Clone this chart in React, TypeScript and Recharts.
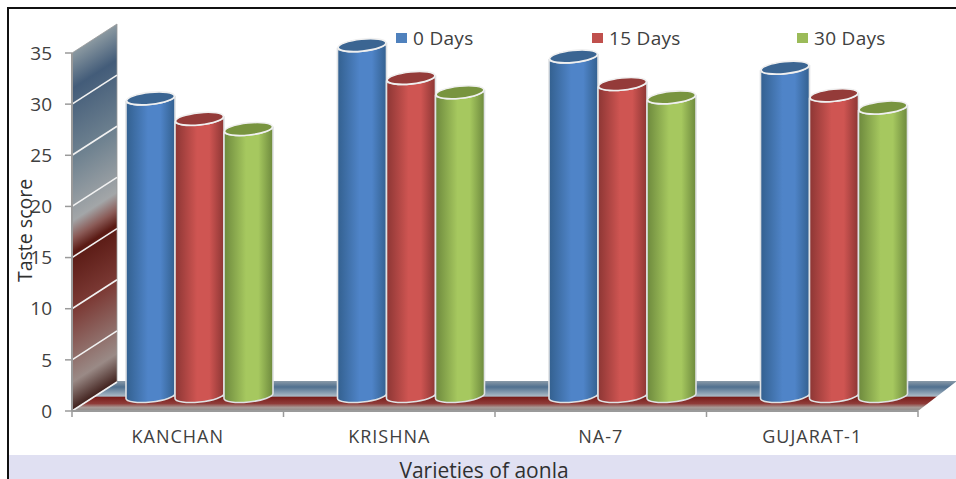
import { BarChart, Bar, XAxis, YAxis, Legend, Customized, usePlotArea } from "recharts";

const varieties = ["KANCHAN", "KRISHNA", "NA-7", "GUJARAT-1"];
const days0 = [29.1, 34.3, 33.2, 32.1];
const days15 = [27.1, 31.1, 30.5, 29.4];
const days30 = [26.1, 29.7, 29.2, 28.2];
const yTicks = [0, 5, 10, 15, 20, 25, 30, 35];
const legendLefts = [0, 196, 401];

const chartData = varieties.map((name, i) => ({
  name,
  d0: days0[i],
  d15: days15[i],
  d30: days30[i],
}));

// depth of the fake 3D box
const WALL_DX = 45;
const WALL_DY = 29;
// cylinders stand halfway into the box
const BAR_DX = 22;
const BAR_DY = 15;
const RY = 6;
const TILT = 2.5;
const FONT = "'Open Sans', sans-serif";

const palette: Record<string, { edge: string; mid: string; top: string }> = {
  "#4f81bd": { edge: "#33608f", mid: "#4f84c8", top: "#3b6592" },
  "#c0504d": { edge: "#8c3634", mid: "#cf5552", top: "#943b39" },
  "#9bbb59": { edge: "#6d893d", mid: "#a6c85f", top: "#78943f" },
};

function Cylinder({ x, y, width, height, fill }: any) {
  const left = x + BAR_DX;
  const right = left + width;
  const top = y - BAR_DY;
  const bottom = y + height - BAR_DY;
  const rx = width / 2;
  const body = `M${left},${top + TILT} L${left},${bottom + TILT} A${rx},${RY} -6 0 0 ${right},${bottom - TILT} L${right},${top - TILT} A${rx},${RY} -6 0 1 ${left},${top + TILT} Z`;
  const gradId = `cyl-${fill.slice(1)}`;
  return (
    <g>
      <path d={body} fill={`url(#${gradId})`} stroke="#dfe2e4" strokeWidth={1.6} />
      <ellipse
        cx={left + rx}
        cy={top}
        rx={rx - 0.5}
        ry={RY}
        transform={`rotate(-6 ${left + rx} ${top})`}
        fill={palette[fill].top}
        stroke="#f0f0f0"
        strokeWidth={1.6}
      />
    </g>
  );
}

// back wall, floor and the axis ticks that sit on the band edges
function Box() {
  const plot = usePlotArea();
  if (!plot) return null;
  const { x, y, width, height } = plot;
  const x1 = x + width;
  const y1 = y + height;
  const band = width / varieties.length;
  const yOf = (v: number) => y1 - (v / yTicks[yTicks.length - 1]) * height;

  return (
    <g>
      <defs>
        <linearGradient
          id="wall"
          gradientUnits="userSpaceOnUse"
          x1={0}
          y1={y}
          x2={0}
          y2={y1}
          gradientTransform={`translate(${x} 0) skewY(-32.8) translate(${-x} 0)`}
        >
          <stop offset="0" stopColor="#8b99a1" />
          <stop offset="0.1" stopColor="#435c79" />
          <stop offset="0.3" stopColor="#6f8290" />
          <stop offset="0.47" stopColor="#a3a6a8" />
          <stop offset="0.52" stopColor="#8a5a56" />
          <stop offset="0.56" stopColor="#5a1a14" />
          <stop offset="0.72" stopColor="#7c3a35" />
          <stop offset="0.92" stopColor="#9a8a86" />
          <stop offset="1" stopColor="#3f1f1b" />
        </linearGradient>
        <linearGradient id="floor" x1="0" y1="0" x2="0" y2="1">
          <stop offset="0" stopColor="#8a9aa8" />
          <stop offset="0.2" stopColor="#50708f" />
          <stop offset="0.5" stopColor="#a8b8c4" />
          <stop offset="0.55" stopColor="#7a1f1c" />
          <stop offset="0.75" stopColor="#8f3b38" />
          <stop offset="0.88" stopColor="#a89a96" />
          <stop offset="1" stopColor="#8c8c8c" />
        </linearGradient>
        {Object.keys(palette).map((c) => (
          <linearGradient key={c} id={`cyl-${c.slice(1)}`} x1="0" y1="0" x2="1" y2="0">
            <stop offset="0" stopColor={palette[c].edge} />
            <stop offset="0.45" stopColor={palette[c].mid} />
            <stop offset="0.7" stopColor={palette[c].mid} />
            <stop offset="1" stopColor={palette[c].edge} />
          </linearGradient>
        ))}
      </defs>

      <polygon
        points={`${x},${y1} ${x1},${y1} ${x1 + WALL_DX - 6},${y1 - WALL_DY - 1} ${x + WALL_DX},${y1 - WALL_DY - 1}`}
        fill="url(#floor)"
      />
      <polygon
        points={`${x},${y} ${x + WALL_DX},${y - WALL_DY} ${x + WALL_DX},${y1 - WALL_DY} ${x},${y1}`}
        fill="url(#wall)"
        stroke="#9a9a9a"
        strokeWidth={0.8}
      />
      {yTicks.slice(0, -1).map((t) => (
        <line
          key={t}
          x1={x}
          y1={yOf(t)}
          x2={x + WALL_DX}
          y2={yOf(t) - WALL_DY}
          stroke="#f2f2f2"
          strokeWidth={1.6}
        />
      ))}

      <line x1={x} y1={y} x2={x} y2={y1} stroke="#9a9a9a" strokeWidth={2} />
      <line x1={x} y1={y1} x2={x1} y2={y1} stroke="#9a9a9a" strokeWidth={2} />
      {varieties.map((_, i) => (
        <line key={i} x1={x + band * i} y1={y1} x2={x + band * i} y2={y1 + 6} stroke="#9a9a9a" strokeWidth={1.5} />
      ))}
      <line x1={x1} y1={y1} x2={x1} y2={y1 + 6} stroke="#9a9a9a" strokeWidth={1.5} />
    </g>
  );
}

function LegendRow({ payload }: any) {
  return (
    <div style={{ position: "relative", height: 24, fontFamily: FONT }}>
      {(payload || []).map((p: any, i: number) => (
        <div
          key={p.value}
          style={{
            position: "absolute",
            left: legendLefts[i],
            top: 0,
            display: "flex",
            alignItems: "center",
            whiteSpace: "nowrap",
            fontSize: 19,
            letterSpacing: 0.3,
            lineHeight: "24px",
            color: "#404040",
          }}
        >
          <span style={{ width: 11, height: 10, background: p.color, marginRight: 6 }} />
          {p.value}
        </div>
      ))}
    </div>
  );
}

export default function App() {
  return (
    <div
      style={{
        position: "absolute",
        left: 0,
        top: 0,
        width: 956,
        height: 479,
        overflow: "hidden",
        background: "#fff",
      }}
    >
      <div style={{ position: "absolute", left: 8, top: 455, right: 0, bottom: 0, background: "#e0e0f2" }} />
      <div style={{ position: "absolute", left: 7, top: 7, right: 0, height: 2, background: "#111" }} />
      <div style={{ position: "absolute", left: 7, top: 7, bottom: 0, width: 1.5, background: "#111" }} />
      <div style={{ position: "absolute", left: 0, top: 0 }}>
        <BarChart
          width={956}
          height={479}
          data={chartData}
          barSize={49}
          barGap={0}
          margin={{ top: 53, right: 38, bottom: 0, left: 12 }}
        >
          <Customized component={<Box />} />
          <XAxis
            dataKey="name"
            height={68}
            axisLine={false}
            tickLine={false}
            tickMargin={13}
            tick={{ fill: "#404040", fontSize: 18, fontFamily: FONT, letterSpacing: 1 }}
            label={{
              value: "Varieties of aonla",
              position: "insideBottom",
              dx: -11,
              dy: 4,
              fill: "#303030",
              fontSize: 21,
              fontFamily: FONT,
            }}
          />
          <YAxis
            width={60}
            domain={[0, 35]}
            ticks={yTicks}
            interval={0}
            axisLine={false}
            tickSize={7}
            tickMargin={13}
            tickLine={{ stroke: "#9a9a9a", strokeWidth: 1.5 }}
            tick={{ fill: "#404040", fontSize: 19, fontFamily: FONT }}
            label={{
              value: "Taste score",
              angle: -90,
              position: "insideLeft",
              dx: 8,
              dy: 50,
              fill: "#303030",
              fontSize: 19.5,
              fontFamily: FONT,
            }}
          />
          <Legend
            verticalAlign="middle"
            content={<LegendRow />}
            wrapperStyle={{ position: "absolute", left: 396, top: 26, width: 520 }}
          />
          <Bar dataKey="d0" name="0 Days" fill="#4f81bd" shape={<Cylinder />} isAnimationActive={false} />
          <Bar dataKey="d15" name="15 Days" fill="#c0504d" shape={<Cylinder />} isAnimationActive={false} />
          <Bar dataKey="d30" name="30 Days" fill="#9bbb59" shape={<Cylinder />} isAnimationActive={false} />
        </BarChart>
      </div>
    </div>
  );
}
